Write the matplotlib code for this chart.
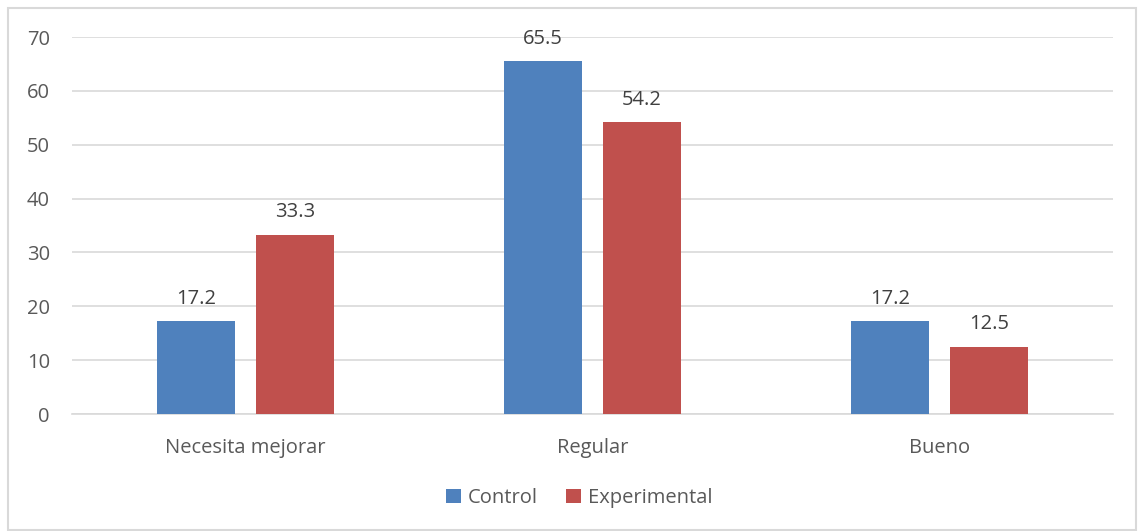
import matplotlib
matplotlib.use("Agg")
import matplotlib.pyplot as plt
from matplotlib.patches import Rectangle
import numpy as np

categories = ["Necesita mejorar", "Regular", "Bueno"]
control = [17.2, 65.5, 17.2]
experimental = [33.3, 54.2, 12.5]
series_names = ["Control", "Experimental"]
yticks = [0, 10, 20, 30, 40, 50, 60, 70]

plt.rcParams["font.family"] = ["Open Sans", "DejaVu Sans"]
text_color = "#595959"
blue = "#4F81BD"
red = "#C0504D"
fs = 14.5

fig = plt.figure(figsize=(11.38, 5.31), dpi=100)
ax = fig.add_axes([0.0633, 0.2203, 0.9147, 0.71])

x = np.arange(len(categories))
w = 0.225
off = 0.1427
b1 = ax.bar(x - off, control, w, color=blue, label=series_names[0], zorder=3)
b2 = ax.bar(x + off, experimental, w, color=red, label=series_names[1], zorder=3)

for bars, vals in ((b1, control), (b2, experimental)):
    for rect, v in zip(bars, vals):
        ax.annotate(f"{v:.1f}", (rect.get_x() + rect.get_width() / 2, v),
                    xytext=(0, 9), textcoords="offset points",
                    ha="center", va="bottom", fontsize=fs, color="#404040")

ax.set_xlim(-0.5, 2.5)
ax.set_ylim(0, 70)
ax.set_yticks(yticks)
ax.set_xticks(x)
ax.set_xticklabels(categories)
ax.yaxis.grid(True, color="#D9D9D9", linewidth=1.2, zorder=0)
ax.set_axisbelow(True)
for s in ("top", "right", "left"):
    ax.spines[s].set_visible(False)
ax.spines["bottom"].set_color("#D9D9D9")
ax.spines["bottom"].set_linewidth(1.2)
ax.tick_params(axis="both", length=0, labelsize=fs, colors=text_color)
ax.tick_params(axis="y", pad=16)
ax.tick_params(axis="x", pad=17)

fig.legend(handles=[b1, b2], labels=series_names, loc="center",
           bbox_to_anchor=(0.509, 0.062), ncol=2, frameon=False,
           fontsize=fs, labelcolor=text_color, handlelength=0.75,
           handleheight=0.75, handletextpad=0.35, columnspacing=1.4)

fig.patches.append(Rectangle((8 / 1138, 1 / 531), 1128 / 1138, 522 / 531,
                             transform=fig.transFigure, fill=False,
                             edgecolor="#D9D9D9", linewidth=1.5))

fig.savefig("out.png", dpi=100, facecolor="white")
